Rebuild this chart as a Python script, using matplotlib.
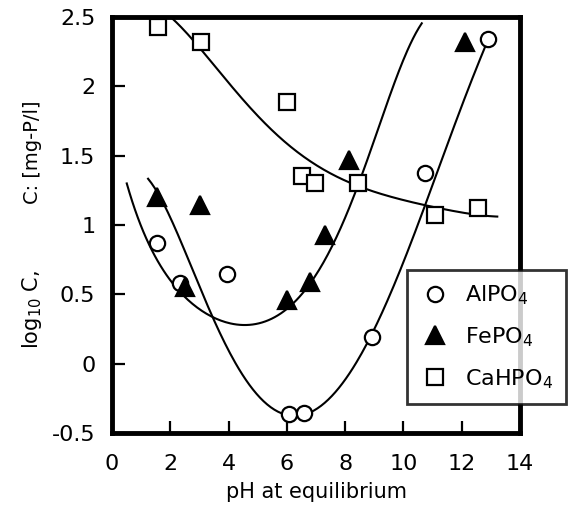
import matplotlib
matplotlib.use("Agg")
import matplotlib.pyplot as plt
import numpy as np
from matplotlib.ticker import FuncFormatter

plt.rcParams['font.family'] = ['DejaVu Sans']
plt.rcParams['mathtext.fontset'] = 'dejavusans'

# Data points
al_x = [1.53, 2.32, 3.95, 6.06, 6.58, 8.93, 10.73, 12.91]
al_y = [0.87, 0.58, 0.65, -0.36, -0.355, 0.19, 1.375, 2.34]
fe_x = [1.53, 3.03, 2.49, 6.0, 6.81, 7.32, 8.14, 12.1]
fe_y = [1.20, 1.145, 0.55, 0.46, 0.59, 0.93, 1.47, 2.32]
ca_x = [1.58, 3.07, 6.0, 6.51, 6.95, 8.45, 11.07, 12.57]
ca_y = [2.43, 2.32, 1.89, 1.35, 1.30, 1.30, 1.07, 1.12]

# Fitted curves
al_cx = [1.23, 1.74, 2.66, 3.58, 4.46, 5.38, 6.06, 6.6, 7.19, 8.35, 8.89, 9.71, 10.73, 11.62, 12.81]
al_cy = [1.35, 1.16, 0.68, 0.32, -0.045, -0.30, -0.38, -0.38, -0.355, 0.0, 0.22, 0.63, 1.13, 1.61, 2.30]
fe_cx = [0.51, 1.40, 2.2, 3.0, 3.6, 4.3, 5.0, 5.72, 6.75, 7.53, 8.45, 9.13, 9.81, 10.63]
fe_cy = [1.30, 0.80, 0.55, 0.40, 0.31, 0.28, 0.30, 0.37, 0.53, 0.84, 1.30, 1.71, 2.07, 2.46]
ca_cx = [2.04, 3.0, 4.12, 5.28, 5.72, 6.85, 8.45, 9.47, 10.73, 12.1, 13.22]
ca_cy = [2.50, 2.26, 2.02, 1.74, 1.61, 1.45, 1.30, 1.20, 1.14, 1.09, 1.06]

labels = ['AlPO$_4$', 'FePO$_4$', 'CaHPO$_4$']
xticks = [0, 2, 4, 6, 8, 10, 12, 14]
yticks = [-0.5, 0, 0.5, 1, 1.5, 2, 2.5]

fig = plt.figure(figsize=(5.73, 5.09), dpi=100)
ax = fig.add_axes([112/573, 1-433/509, (520-112)/573, (433-17)/509])

def smooth(xs, ys, n=200, deg=5):
    xs = np.asarray(xs); ys = np.asarray(ys)
    t = np.concatenate([[0], np.cumsum(np.hypot(np.diff(xs), np.diff(ys)))])
    tt = np.linspace(0, t[-1], n)
    px = np.polyfit(t, xs, deg); py = np.polyfit(t, ys, deg)
    return np.polyval(px, tt), np.polyval(py, tt)

for cx, cy in [(al_cx, al_cy), (fe_cx, fe_cy), (ca_cx, ca_cy)]:
    sx, sy = smooth(cx, cy)
    ax.plot(sx, sy, color='black', lw=1.5, zorder=2)

ms = 11
mew = 1.6
ax.plot(al_x, al_y, 'o', ms=ms, mfc='white', mec='black', mew=mew, ls='none', label=labels[0], zorder=3)
ax.plot(fe_x, fe_y, '^', ms=ms+2, mfc='black', mec='black', mew=mew, ls='none', label=labels[1], zorder=3)
ax.plot(ca_x, ca_y, 's', ms=ms, mfc='white', mec='black', mew=mew, ls='none', label=labels[2], zorder=3)

ax.set_xlim(0, 14)
ax.set_ylim(-0.5, 2.5)
ax.set_xticks(xticks)
ax.set_yticks(yticks)
ax.yaxis.set_major_formatter(FuncFormatter(lambda v, p: ('%g' % v)))
ax.tick_params(direction='in', length=9, width=1.6, labelsize=16)
ax.tick_params(axis='x', pad=15)
ax.tick_params(axis='y', pad=12)
for s in ax.spines.values():
    s.set_linewidth(3.5)

ax.set_xlabel('pH at equilibrium', fontsize=15, labelpad=6)
fig.text(32/573, 1-152/509, 'C: [mg-P/l]', rotation=90, ha='center', va='center', fontsize=14)
fig.text(32/573, 1-309/509, 'log$_{10}$ C,', rotation=90, ha='center', va='center', fontsize=15)

leg = ax.legend(loc='upper left', bbox_to_anchor=(407/573, 1-270/509), bbox_transform=fig.transFigure,
                fontsize=16, frameon=True, fancybox=False, edgecolor='black', labelspacing=0.82,
                handletextpad=0.7, borderpad=0.6, handlelength=1.3, borderaxespad=0)
leg.get_frame().set_linewidth(2)
leg.set_zorder(5)

fig.savefig('out.png', dpi=100)
